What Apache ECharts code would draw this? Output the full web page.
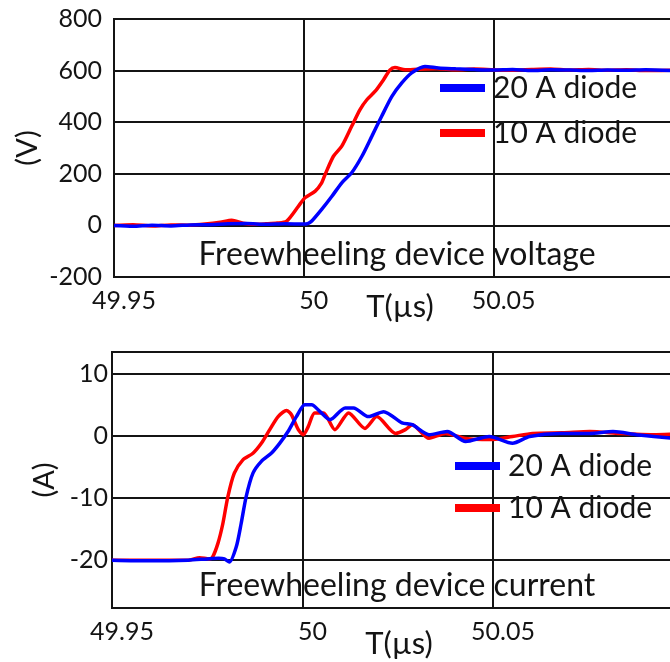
<!DOCTYPE html>
<html>
<head>
<meta charset="utf-8">
<script src="https://cdn.jsdelivr.net/npm/echarts/dist/echarts.min.js"></script>
<style>
body { margin: 0; background: #fff; }
#main { width: 670px; height: 662px; }
</style>
</head>
<body>
<div id="main"></div>
<script>
// time in us, voltage in V, current in A
var volt_10a = [[49.95,0],[49.955,3],[49.96,-2],[49.965,2],[49.97,1],[49.974,5],[49.978,12],[49.981,20],[49.984,8],[49.987,4],
	[49.99,6],[49.993,9],[49.9955,17],[49.9986,75],[50.0003,107],[50.003,133],[50.0047,165],[50.0056,197],[50.0078,268],[50.01,307],
	[50.0126,384],[50.0148,449],[50.0166,487],[50.0188,520],[50.021,565],[50.0227,603],[50.024,612],[50.0267,603],[50.03,605],[50.035,607],
	[50.04,603],[50.045,606],[50.05,603],[50.055,601],[50.06,604],[50.065,606],[50.07,602],[50.075,604],[50.08,601],[50.085,603],
	[50.09,600],[50.0975,602]];
var volt_20a = [[49.95,0],[49.955,-3],[49.96,1],[49.965,-2],[49.97,2],[49.975,3],[49.98,6],[49.985,7],[49.99,4],[49.995,6],
	[50.0,5],[50.0012,8],[50.0021,17],[50.0047,62],[50.0074,113],[50.01,165],[50.0126,204],[50.0153,268],[50.0179,345],[50.0205,423],
	[50.0232,500],[50.0258,552],[50.0284,591],[50.0319,616],[50.0355,610],[50.04,607],[50.045,604],[50.05,602],[50.055,604],[50.06,600],
	[50.065,603],[50.07,602],[50.075,600],[50.08,602],[50.085,601],[50.09,603],[50.0975,600]];
var curr_10a = [[49.95,-20],[49.96,-20],[49.97,-20],[49.973,-19.6],[49.9755,-19.8],[49.9764,-19.5],[49.9778,-17.3],[49.9791,-14.1],[49.9804,-9.8],[49.9821,-6.0],
	[49.9843,-3.9],[49.987,-2.8],[49.9892,-1.2],[49.9914,1.0],[49.9936,3.1],[49.9958,4.1],[49.9971,3.4],[49.9989,1.0],[50.0002,0.2],[50.0015,1.5],
	[50.0032,3.7],[50.0055,3.7],[50.0085,1.0],[50.0121,3.7],[50.0164,1.2],[50.0195,3.1],[50.0244,0.4],[50.027,1.0],[50.0288,1.8],[50.0332,-0.4],
	[50.0375,0.4],[50.0428,-0.4],[50.049,-0.6],[50.0551,-0.1],[50.0604,0.4],[50.0683,0.5],[50.0754,0.7],[50.0833,0.4],[50.0921,0.2],[50.0975,0.3]];
var curr_20a = [[49.95,-20],[49.96,-20.1],[49.97,-20],[49.975,-19.8],[49.978,-19.7],[49.9795,-19.8],[49.9808,-20.3],[49.9826,-17.9],[49.9839,-14.1],[49.9852,-9.8],
	[49.987,-6.0],[49.9892,-4.1],[49.9918,-2.8],[49.994,-1.2],[49.9962,0.7],[49.9984,3.1],[50.0006,5.0],[50.0024,5.0],[50.0046,3.9],[50.0072,2.6],
	[50.0112,4.5],[50.0134,4.5],[50.0173,3.1],[50.0213,3.9],[50.0261,2.1],[50.0288,1.8],[50.0332,0.2],[50.038,0.7],[50.0428,-0.9],[50.049,-0.1],
	[50.0551,-1.2],[50.0596,-0.1],[50.0675,0.4],[50.0754,0.4],[50.0815,0.7],[50.0877,0.2],[50.0975,-0.4]];

var x_ticks = [49.95, 50, 50.05];
var x_tick_labels = ['49.95', '50', '50.05'];
var series_names = ['20 A diode', '10 A diode'];
var panel_titles = ['Freewheeling device voltage', 'Freewheeling device current'];

var font = 'Lato';
var ink = '#141414';

function x_label(v){
	for(var i = 0; i < x_ticks.length; i++){
		if(Math.abs(v - x_ticks[i]) < 1e-6) return x_tick_labels[i];
	}
	return '';
}

function make_x_axis(idx, gap){
	return {
		gridIndex: idx,
		type: 'value',
		min: 49.95,
		max: 50.0975,
		interval: 0.05,
		axisLine: {show: false},
		axisTick: {show: false},
		splitLine: {lineStyle: {color: ink, width: 2}},
		axisLabel: {formatter: x_label, fontFamily: font, fontSize: 25, color: ink, margin: 11, padding: [0, 0, 0, 20]},
		name: 'T(µs)',
		nameLocation: 'middle',
		nameGap: gap,
		nameMoveOverlap: false,
		nameTextStyle: {fontFamily: font, fontSize: 31, color: ink, padding: [0, 0, 0, 12]}
	};
}

function make_legend(left, top, gap){
	return {
		data: series_names, orient: 'vertical', left: left, top: top, padding: 0,
		icon: 'rect', itemWidth: 45, itemHeight: 8, itemGap: gap,
		textStyle: {fontFamily: font, fontSize: 30, color: ink, lineHeight: 30, padding: [0, 0, 0, 3]}
	};
}

var chart = echarts.init(document.getElementById('main'));
var option = {
	animation: false,
	grid: [
		{left: 114, top: 19, right: -4, height: 258, outerBoundsMode: 'none', show: true, borderColor: ink, borderWidth: 2},
		{left: 112, top: 352, right: -4, height: 256, outerBoundsMode: 'none', show: true, borderColor: ink, borderWidth: 2}
	],
	xAxis: [make_x_axis(0, 14), make_x_axis(1, 20)],
	yAxis: [
		{
			gridIndex: 0, type: 'value', min: -200, max: 800, interval: 200,
			axisLine: {show: false}, axisTick: {show: false},
			splitLine: {lineStyle: {color: ink, width: 2}},
			axisLabel: {fontFamily: font, fontSize: 25, color: ink, margin: 12},
			name: '(V)', nameLocation: 'middle', nameGap: 72, nameMoveOverlap: false,
			nameTextStyle: {fontFamily: font, fontSize: 29, color: ink}
		},
		{
			gridIndex: 1, type: 'value', min: -27.7, max: 13.5, minInterval: 10, maxInterval: 10,
			axisLine: {show: false}, axisTick: {show: false},
			splitLine: {lineStyle: {color: ink, width: 2}},
			axisLabel: {
				fontFamily: font, fontSize: 25, color: ink, margin: 4, padding: [6, 0, 0, 0],
				formatter: function(v){ return (Math.abs(v % 10) < 1e-6) ? String(v) : ''; }
			},
			name: '(A)', nameLocation: 'middle', nameGap: 53, nameMoveOverlap: false,
			nameTextStyle: {fontFamily: font, fontSize: 29, color: ink}
		}
	],
	legend: [make_legend(440, 73, 15), make_legend(455, 451, 12)],
	graphic: [
		{type: 'text', x: 397, y: 255, style: {text: panel_titles[0], font: '32px Lato', fill: ink, textAlign: 'center', textVerticalAlign: 'middle'}},
		{type: 'text', x: 397, y: 586, style: {text: panel_titles[1], font: '32px Lato', fill: ink, textAlign: 'center', textVerticalAlign: 'middle'}}
	],
	series: [
		{name: '10 A diode', type: 'line', xAxisIndex: 0, yAxisIndex: 0, data: volt_10a, showSymbol: false, smooth: 0.25,
			itemStyle: {color: '#ff0000'}, lineStyle: {color: '#ff0000', width: 3.5}},
		{name: '20 A diode', type: 'line', xAxisIndex: 0, yAxisIndex: 0, data: volt_20a, showSymbol: false, smooth: 0.25,
			itemStyle: {color: '#0000ff'}, lineStyle: {color: '#0000ff', width: 3.5}},
		{name: '10 A diode', type: 'line', xAxisIndex: 1, yAxisIndex: 1, data: curr_10a, showSymbol: false, smooth: 0.25,
			itemStyle: {color: '#ff0000'}, lineStyle: {color: '#ff0000', width: 3.5}},
		{name: '20 A diode', type: 'line', xAxisIndex: 1, yAxisIndex: 1, data: curr_20a, showSymbol: false, smooth: 0.25,
			itemStyle: {color: '#0000ff'}, lineStyle: {color: '#0000ff', width: 3.5}}
	]
};
chart.setOption(option);
window.addEventListener('resize', function(){
	chart.resize();
});
</script>
</body>
</html>
